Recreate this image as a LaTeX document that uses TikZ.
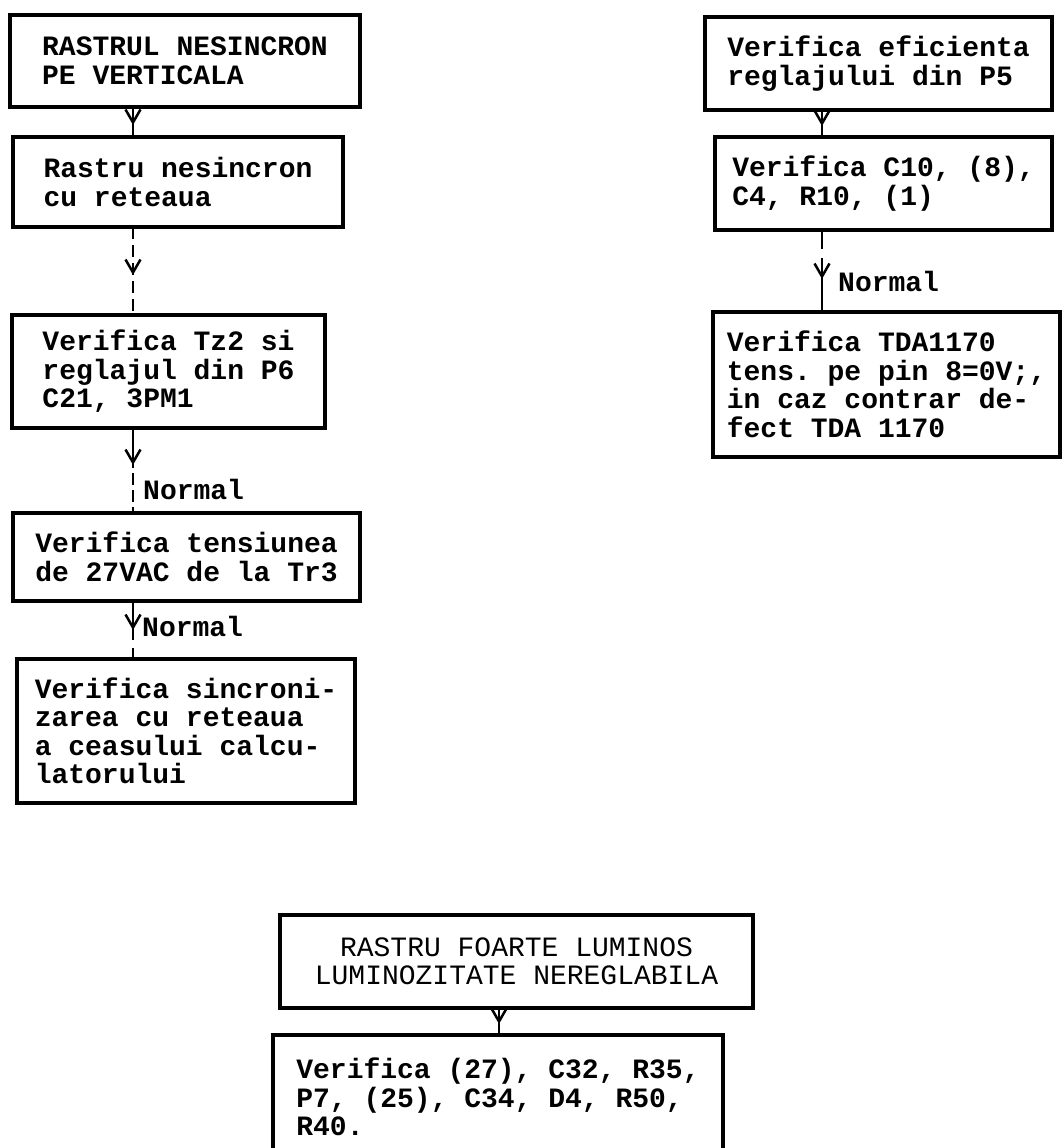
\documentclass[tikz,border=0pt]{standalone}
\usepackage{fontspec}
\setmainfont{Liberation Mono}
\usetikzlibrary{arrows.meta, positioning, decorations.markings}
\frenchspacing

\begin{document}
\begin{tikzpicture}[
		x=1pt, y=-1pt,
		font=\fontsize{28}{28.5}\selectfont\bfseries,
		chkbox/.style={draw, line width=4.5pt, outer sep=0pt, inner sep=0pt,
			align=left, anchor=north west},
		link/.style={line width=2.5pt},
		midarrow/.style={postaction={decorate}, decoration={markings,
			mark=at position #1 with {\arrow{Straight Barb[length=13pt, width=15pt]}}}},
		normtext/.style={anchor=west, inner sep=0pt}
	]
		\clip (0,0) rectangle (1062,1148);
		\coordinate (colL) at (133,0);
		\coordinate (colR) at (822,0);
		\coordinate (colB) at (499,0);
		% left column
		\node[chkbox, minimum width=350pt, minimum height=92pt] (rastvert) at (10,15) {RASTRUL NESINCRON\\PE VERTICALA};
		\node[chkbox, minimum width=330pt, minimum height=90pt, below right=30pt and 3pt of rastvert.south west] (nesinc) {Rastru nesincron\\cu reteaua};
		\node[chkbox, minimum width=313pt, minimum height=113pt, below right=88pt and -1pt of nesinc.south west] (tzcheck) {Verifica Tz2 si\\reglajul din P6\\C21, 3PM1};
		\node[chkbox, minimum width=347pt, minimum height=88pt, below right=85pt and 1pt of tzcheck.south west] (tenscheck) {Verifica tensiunea\\de 27VAC de la Tr3};
		\node[chkbox, minimum width=338pt, minimum height=144pt, below right=58pt and 4pt of tenscheck.south west] (sincheck) {Verifica sincroni-\\zarea cu reteaua\\a ceasului calcu-\\latorului};
		% right column
		\node[chkbox, minimum width=347pt, minimum height=93pt] (eficheck) at (705,17) {Verifica eficienta\\reglajului din P5};
		\node[chkbox, minimum width=337pt, minimum height=93pt, below right=27pt and 10pt of eficheck.south west] (ccheck) {Verifica C10, (8),\\C4, R10, (1)};
		\node[chkbox, minimum width=347pt, minimum height=145pt, below right=82pt and -2pt of ccheck.south west] (tdacheck) {Verifica TDA1170\\tens. pe pin 8=0V;,\\in caz contrar de-\\fect TDA 1170};
		% bottom
		\node[chkbox, minimum width=473pt, minimum height=93pt, align=center, font=\fontsize{28}{28.5}\selectfont\mdseries] (lumin) at (280,915) {RASTRU FOARTE LUMINOS\\LUMINOZITATE NEREGLABILA};
		\node[chkbox, minimum width=450pt, minimum height=124pt, below right=27pt and -7pt of lumin.south west] (lumcheck) {Verifica (27), C32, R35,\\P7, (25), C34, D4, R50,\\R40.};
		% connectors
		\draw[link, midarrow=18pt] (rastvert.south -| colL) -- (nesinc.north -| colL);
		\draw[link, dash pattern=on 12pt off 6pt, midarrow=48pt] (nesinc.south -| colL) -- (tzcheck.north -| colL);
		\draw[link, dash pattern=on 40pt off 5pt on 12pt off 5pt on 12pt off 5pt, midarrow=37pt] (tzcheck.south -| colL) -- (tenscheck.north -| colL);
		\draw[link, dash pattern=on 39pt off 8pt on 40pt, midarrow=29pt] (tenscheck.south -| colL) -- (sincheck.north -| colL);
		\draw[link, midarrow=16pt] (eficheck.south -| colR) -- (ccheck.north -| colR);
		\draw[link, dash pattern=on 19pt off 9pt on 80pt, midarrow=49pt] (ccheck.south -| colR) -- (tdacheck.north -| colR);
		\draw[link, midarrow=16pt] (lumin.south -| colB) -- (lumcheck.north -| colB);
		% labels
		\node[normtext] (normtz) at (143,489) {Normal};
		\node[normtext] (normtens) at (142,626) {Normal};
		\node[normtext] (normc) at (838,281) {Normal};
\end{tikzpicture}
\end{document}
